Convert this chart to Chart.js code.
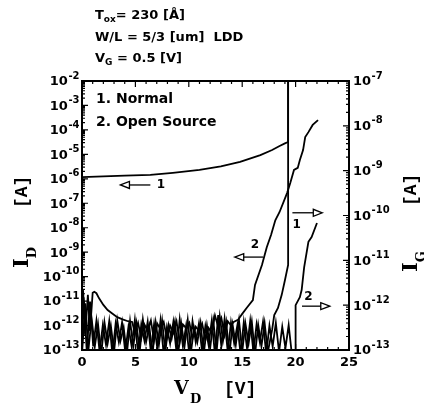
<!DOCTYPE html>
<html>
<head>
<meta charset="utf-8">
<script src="https://cdn.jsdelivr.net/npm/chart.js@4.4.0/dist/chart.umd.min.js"></script>
<style>
  html, body { margin: 0; padding: 0; background: #fff; }
</style>
</head>
<body>
<canvas id="ivChart" width="424" height="406"></canvas>
<script>
// Tick labels
var xTicks = [0, 5, 10, 15, 20, 25];
var leftExps = [-2, -3, -4, -5, -6, -7, -8, -9, -10, -11, -12, -13];
var rightExps = [-7, -8, -9, -10, -11, -12, -13];

// 1. Normal, drain current (left axis)
var id1V = [0, 0, 2, 4, 6.4, 8.5, 11, 13, 14.8, 16.7, 17.8, 18.5, 19.0, 19.3, 19.3];
var id1I = [1e-13, 1.17e-6, 1.25e-6, 1.35e-6, 1.45e-6, 1.75e-6, 2.3e-6, 3.2e-6, 4.9e-6, 9.3e-6, 1.5e-5, 2.2e-5, 2.8e-5, 3.2e-5, 1e-2];

// 2. Open source, drain current (left axis)
var id2V = [0, 0.1, 0.3, 0.55, 0.75, 1.0, 1.15, 1.35, 1.6, 2.0, 2.4, 2.8, 3.3, 3.8, 4.3, 4.7,
  4.95, 5.25, 5.55, 5.85, 6.15, 6.45, 6.75, 7.05, 7.35, 7.65, 7.95, 8.25, 8.55, 8.85, 9.15,
  9.45, 9.75, 10.05, 10.35, 10.65, 10.95, 11.25, 11.55, 11.85, 12.15, 12.45, 12.75, 13.05,
  13.35, 13.65, 13.95, 14.2, 14.6, 15.0, 15.45, 16.0, 16.2, 16.85, 17.3, 17.7, 18.1, 18.5,
  19.2, 19.5, 19.85, 20.2, 20.4, 20.7, 20.9, 21.2, 21.6, 22.1];
var id2I = [1e-13, 2.8e-11, 4e-13, 1.8e-11, 6e-13, 2.2e-11, 2.4e-11, 2.1e-11, 1.3e-11, 7e-12,
  4.3e-12, 3.2e-12, 2.2e-12, 1.8e-12, 1.5e-12, 1.4e-12,
  5e-13, 1.3e-12, 3e-13, 1.1e-12, 6e-13, 1.6e-12, 2.5e-13, 1.2e-12, 7e-13, 1.4e-12,
  3e-13, 1e-12, 5e-13, 1.5e-12, 2e-13, 1.1e-12, 8e-13, 1.3e-12, 3e-13, 9e-13,
  6e-13, 1.2e-12, 2.5e-13, 8e-13, 5e-13, 2.6e-12, 9e-13, 2e-12, 4e-13, 1.5e-12, 1e-12,
  1.4e-12, 1.7e-12, 3e-12, 5.5e-12, 1.1e-11, 4.6e-11, 3e-10, 1.6e-9, 5e-9, 2e-8, 4.4e-8,
  2.6e-7, 6.8e-7, 2.3e-6, 2.8e-6, 5.9e-6, 1.5e-5, 5.1e-5, 8.1e-5, 1.6e-4, 2.5e-4];

// 1. Normal, gate current (right axis)
var ig1V = [0, 0.3, 0.6, 0.9, 1.2, 1.5, 1.8, 2.1, 2.4, 2.7, 3.0, 3.3, 3.6, 3.9, 4.2, 4.5,
  4.8, 5.1, 5.4, 5.7, 6.0, 6.3, 6.6, 6.9, 7.2, 7.5, 7.8, 8.1, 8.4, 8.7, 9.0, 9.3, 9.6,
  9.9, 10.2, 10.5, 10.8, 11.1, 11.4, 11.7, 12.0, 12.3, 12.6, 12.9, 13.2, 13.5, 13.8,
  14.1, 14.4, 14.7, 15.0, 15.3, 15.6, 15.9, 16.2, 16.5, 16.8, 17.1, 17.4,
  17.8, 18.0, 18.35, 18.7, 19.0, 19.3, 19.3];
var ig1I = [8e-14, 1.1e-12, 1e-13, 5e-13, 1.2e-13, 3.8e-13, 8e-14, 4.2e-13, 1.4e-13, 3.5e-13,
  9e-14, 4.6e-13, 1.6e-13, 3.2e-13, 8e-14, 4.4e-13, 1.2e-13, 3.9e-13, 9e-14, 4.8e-13,
  1.5e-13, 3.4e-13, 8e-14, 4.1e-13, 1.3e-13, 4.5e-13, 9e-14, 3.6e-13, 1.8e-13, 4.3e-13,
  8e-14, 3.8e-13, 1.2e-13, 4.7e-13, 9e-14, 3.1e-13, 1.5e-13, 4e-13, 8e-14, 3.5e-13,
  1.1e-13, 4.4e-13, 9e-14, 5.6e-13, 1.6e-13, 4.2e-13, 8e-14, 3.7e-13, 1.3e-13, 4.6e-13,
  9e-14, 3.9e-13, 1.4e-13, 4.3e-13, 8e-14, 3.6e-13, 1.2e-13, 4e-13, 9e-14,
  2.8e-13, 6e-13, 8.7e-13, 1.7e-12, 3.6e-12, 7.9e-12, 1e-7];

// 2. Open source, gate current (right axis)
var ig2V = [0.15, 0.45, 0.75, 1.05, 1.35, 1.65, 1.95, 2.25, 2.55, 2.85, 3.15, 3.45, 3.75,
  4.05, 4.35, 4.65, 4.95, 5.25, 5.55, 5.85, 6.15, 6.45, 6.75, 7.05, 7.35, 7.65, 7.95,
  8.25, 8.55, 8.85, 9.15, 9.45, 9.75, 10.05, 10.35, 10.65, 10.95, 11.25, 11.55, 11.85,
  12.15, 12.45, 12.75, 13.05, 13.35, 13.65, 13.95, 14.25, 14.55, 14.85, 15.15, 15.45,
  15.75, 16.05, 16.35, 16.65, 16.95, 17.25, 17.55, 17.85, 18.15, 18.45, 18.75, 19.05,
  19.35, 19.65, 19.95, 20.0, 20.25, 20.4, 20.57, 20.8, 21.2, 21.5, 22.0];
var ig2I = [1.5e-12, 9e-14, 1.2e-12, 1.2e-13, 4.5e-13, 9e-14, 3.6e-13, 1.3e-13, 4.4e-13,
  8e-14, 3.9e-13, 1.5e-13, 4.1e-13, 9e-14, 3.3e-13, 1.2e-13, 4.7e-13, 8e-14, 3.7e-13,
  1.6e-13, 4.3e-13, 9e-14, 3.8e-13, 1.1e-13, 4.6e-13, 8e-14, 3.2e-13, 1.4e-13, 4.2e-13,
  9e-14, 4.8e-13, 1.2e-13, 3.5e-13, 8e-14, 4.4e-13, 1.5e-13, 3.9e-13, 9e-14, 3.4e-13,
  1.3e-13, 4.5e-13, 8e-14, 6e-13, 1.2e-13, 4.9e-13, 9e-14, 4.1e-13, 1.4e-13, 3.6e-13,
  8e-14, 4.2e-13, 1.1e-13, 4.5e-13, 9e-14, 3.8e-13, 1.5e-13, 4.3e-13, 8e-14, 3.5e-13,
  1.2e-13, 4e-13, 9e-14, 3.3e-13, 1.1e-13, 3.6e-13, 8e-14, 9e-14, 1e-12, 1.3e-12,
  1.5e-12, 2.2e-12, 7e-12, 2.6e-11, 3.3e-11, 6.8e-11];

function points(vs, is) {
  var out = [];
  for (var i = 0; i < vs.length; i++) out.push({ x: vs[i], y: is[i] });
  return out;
}

function curve(vs, is, axis) {
  return {
    data: points(vs, is),
    yAxisID: axis,
    borderColor: '#000',
    borderWidth: 1.8,
    pointRadius: 0,
    tension: 0,
    fill: false
  };
}

var SANS = '"DejaVu Sans", sans-serif';
var SERIF = '"DejaVu Serif", serif';
var MONO = '"Liberation Mono", monospace';

// draws "10" with a raised exponent; align 'right' or 'left' against x
function powLabel(ctx, x, y, exp, align) {
  var base = '10', sup = '-' + Math.abs(exp);
  ctx.font = 'bold 13px ' + SANS;
  var wb = ctx.measureText(base).width;
  ctx.font = 'bold 10px ' + SANS;
  var ws = ctx.measureText(sup).width;
  var x0 = align === 'right' ? x - wb - ws : x;
  ctx.textAlign = 'left';
  ctx.textBaseline = 'middle';
  ctx.font = 'bold 13px ' + SANS;
  ctx.fillText(base, x0, y + 1);
  ctx.font = 'bold 10px ' + SANS;
  ctx.fillText(sup, x0 + wb + 0.5, y - 5);
}

// runs of [text, font, dy] drawn one after another
function run(ctx, parts, x, y) {
  ctx.textAlign = 'left';
  ctx.textBaseline = 'alphabetic';
  for (var i = 0; i < parts.length; i++) {
    ctx.font = parts[i][1];
    ctx.fillText(parts[i][0], x, y + parts[i][2]);
    x += ctx.measureText(parts[i][0]).width;
  }
  return x;
}

function arrow(ctx, x1, y, x2) {
  var dir = x2 > x1 ? 1 : -1, hl = 9, hw = 3.5;
  ctx.beginPath();
  ctx.moveTo(x1, y);
  ctx.lineTo(x2 - dir * hl, y);
  ctx.stroke();
  ctx.beginPath();
  ctx.moveTo(x2, y);
  ctx.lineTo(x2 - dir * hl, y - hw);
  ctx.lineTo(x2 - dir * hl, y + hw);
  ctx.closePath();
  ctx.stroke();
}

var decor = {
  id: 'decor',
  afterDraw: function(chart) {
    var ctx = chart.ctx, a = chart.chartArea;
    var sx = chart.scales.x, yl = chart.scales.yL, yr = chart.scales.yR;
    ctx.save();
    ctx.strokeStyle = '#000';
    ctx.fillStyle = '#000';

    // frame
    ctx.lineWidth = 2;
    ctx.strokeRect(a.left, a.top, a.right - a.left, a.bottom - a.top);

    // inward ticks
    ctx.lineWidth = 1.2;
    ctx.beginPath();
    var v, len, p, d, m;
    for (v = 0; v <= 25; v++) {
      p = sx.getPixelForValue(v);
      len = v % 5 === 0 ? 6 : 3;
      ctx.moveTo(p, a.bottom); ctx.lineTo(p, a.bottom - len);
      ctx.moveTo(p, a.top); ctx.lineTo(p, a.top + len);
    }
    for (d = -13; d < -2; d++) {
      for (m = 1; m < 10; m++) {
        p = yl.getPixelForValue(m * Math.pow(10, d));
        len = m === 1 ? 6 : 3;
        ctx.moveTo(a.left, p); ctx.lineTo(a.left + len, p);
      }
    }
    for (d = -13; d < -7; d++) {
      for (m = 1; m < 10; m++) {
        p = yr.getPixelForValue(m * Math.pow(10, d));
        len = m === 1 ? 6 : 3;
        ctx.moveTo(a.right, p); ctx.lineTo(a.right - len, p);
      }
    }
    ctx.stroke();

    // tick labels
    leftExps.forEach(function(e) {
      powLabel(ctx, a.left - 3, yl.getPixelForValue(Math.pow(10, e)), e, 'right');
    });
    rightExps.forEach(function(e) {
      powLabel(ctx, a.right + 4, yr.getPixelForValue(Math.pow(10, e)), e, 'left');
    });
    ctx.font = 'bold 13px ' + SANS;
    ctx.textAlign = 'center';
    ctx.textBaseline = 'middle';
    xTicks.forEach(function(t) {
      ctx.fillText(String(t), sx.getPixelForValue(t), a.bottom + 13);
    });

    // header
    var F13 = 'bold 13px ' + SANS, F9 = 'bold 9px ' + SANS;
    run(ctx, [['T', F13, 0], ['ox', F9, 3], ['= 230 [\u00C5]', F13, 0]], 95, 19);
    run(ctx, [['W/L = 5/3 [um]  LDD', F13, 0]], 95, 41);
    run(ctx, [['V', F13, 0], ['G', F9, 3], [' = 0.5 [V]', F13, 0]], 95, 62);

    // legend text
    ctx.font = 'bold 14px ' + SANS;
    ctx.textAlign = 'left';
    ctx.textBaseline = 'middle';
    ctx.fillText('1. Normal', 96, 99);
    ctx.fillText('2. Open Source', 96, 122);

    // axis titles
    run(ctx, [['V', 'bold 19px ' + SERIF, 0]], 174, 394);
    run(ctx, [['D', 'bold 13px ' + SERIF, 0]], 190, 403);
    run(ctx, [['[V]', 'bold 18px ' + MONO, 0]], 224, 394);

    ctx.save();
    ctx.translate(28, 268);
    ctx.rotate(-Math.PI / 2);
    run(ctx, [['I', 'bold 21px ' + SERIF, 0], ['D', 'bold 13px ' + SERIF, 8]], 0, 0);
    run(ctx, [['[A]', 'bold 18px ' + MONO, -1]], 268 - 208, 0);
    ctx.restore();

    ctx.save();
    ctx.translate(417, 272);
    ctx.rotate(-Math.PI / 2);
    run(ctx, [['I', 'bold 21px ' + SERIF, 0], ['G', 'bold 13px ' + SERIF, 8]], 0, 0);
    run(ctx, [['[A]', 'bold 18px ' + MONO, -1]], 272 - 206, 0);
    ctx.restore();

    // arrows tying each curve to its axis
    ctx.lineWidth = 1.3;
    var yA = yl.getPixelForValue(5.6e-7);
    arrow(ctx, sx.getPixelForValue(6.4), yA, sx.getPixelForValue(3.6));
    var yB = yl.getPixelForValue(6.3e-10);
    arrow(ctx, sx.getPixelForValue(16.95), yB, sx.getPixelForValue(14.3));
    var yC = yr.getPixelForValue(1.15e-10);
    arrow(ctx, sx.getPixelForValue(19.7), yC, sx.getPixelForValue(22.5));
    var yD = yr.getPixelForValue(9.5e-13);
    arrow(ctx, sx.getPixelForValue(20.6), yD, sx.getPixelForValue(23.2));

    ctx.font = 'bold 12px ' + SANS;
    ctx.textAlign = 'center';
    ctx.textBaseline = 'middle';
    ctx.fillText('1', sx.getPixelForValue(7.4), yA);
    ctx.fillText('2', sx.getPixelForValue(16.2), yl.getPixelForValue(1.95e-9));
    ctx.fillText('1', sx.getPixelForValue(20.1), yr.getPixelForValue(6.2e-11));
    ctx.fillText('2', sx.getPixelForValue(21.2), yr.getPixelForValue(1.5e-12));

    ctx.restore();
  }
};

var chart = new Chart(document.getElementById('ivChart').getContext('2d'), {
  type: 'line',
  data: {
    datasets: [
      curve(id1V, id1I, 'yL'),
      curve(id2V, id2I, 'yL'),
      curve(ig1V, ig1I, 'yR'),
      curve(ig2V, ig2I, 'yR')
    ]
  },
  options: {
    responsive: false,
    animation: false,
    layout: { padding: { left: 82, right: 75, top: 81, bottom: 56 } },
    scales: {
      x: { type: 'linear', min: 0, max: 25, display: false },
      yL: { type: 'logarithmic', position: 'left', min: 1e-13, max: 1e-2, display: false },
      yR: { type: 'logarithmic', position: 'right', min: 1e-13, max: 1e-7, display: false }
    },
    plugins: {
      legend: { display: false },
      tooltip: { enabled: false }
    }
  },
  plugins: [decor]
});
</script>
</body>
</html>
